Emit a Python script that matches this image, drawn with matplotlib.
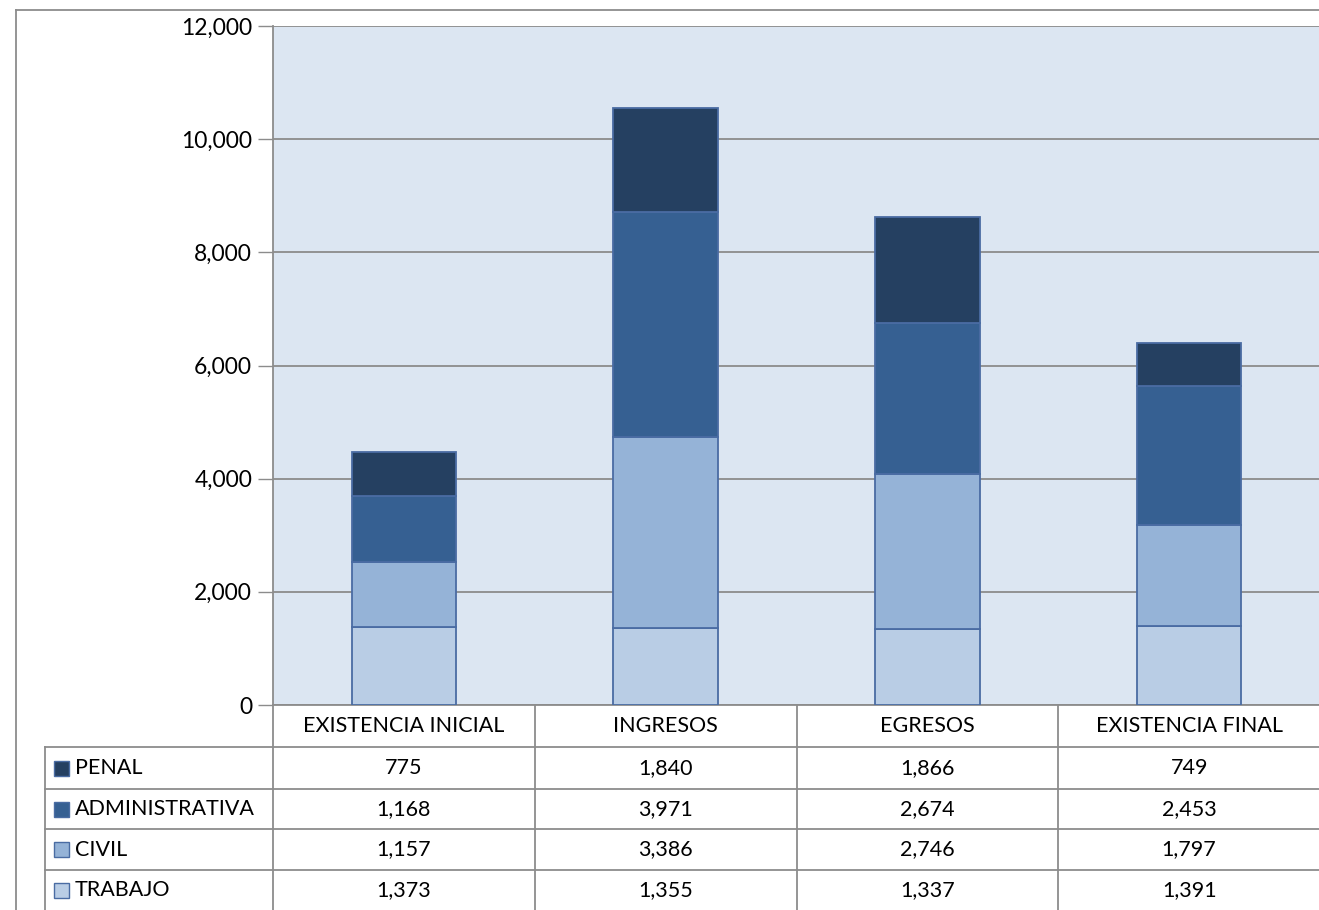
import numpy as np
import matplotlib.pyplot as plt
import matplotlib.transforms as mtransforms
from matplotlib.lines import Line2D
from matplotlib.patches import Rectangle

plt.rcParams['font.family'] = ['Lato', 'DejaVu Sans']

categorias = ['EXISTENCIA INICIAL', 'INGRESOS', 'EGRESOS', 'EXISTENCIA FINAL']
series = ['TRABAJO', 'CIVIL', 'ADMINISTRATIVA', 'PENAL']
trabajo = [1373, 1355, 1337, 1391]
civil = [1157, 3386, 2746, 1797]
administrativa = [1168, 3971, 2674, 2453]
penal = [775, 1840, 1866, 749]
colores = ['#b9cde5', '#95b3d7', '#366092', '#254061']

valores = [trabajo, civil, administrativa, penal]

W, H = 1319, 910
fig = plt.figure(figsize=(W / 100, H / 100), dpi=100)
ax = fig.add_axes([273 / W, (H - 705) / H, (1320 - 273) / W, (705 - 26) / H])
ax.set_facecolor('#dce6f2')

x = np.arange(len(categorias))
base = np.zeros(len(categorias))
for nombre, vals, col in zip(series, valores, colores):
    ax.bar(x, vals, 0.4, bottom=base, color=col, edgecolor='#4a6ca3',
           linewidth=1.3, zorder=3, label=nombre)
    base += np.array(vals)

ax.set_xlim(-0.5, len(categorias) - 0.5)
ax.set_ylim(0, 12000)
ax.set_yticks(np.arange(0, 12001, 2000))
ax.set_yticklabels([f'{v:,}' for v in range(0, 12001, 2000)], fontsize=16.5)
ax.yaxis.grid(True, color='#8c8c8c', linewidth=1.3, zorder=1)
ax.tick_params(axis='y', length=11, width=1, color='#8c8c8c', pad=4)
ax.set_xticks([])
for s in ['right', 'top']:
    ax.spines[s].set_visible(False)
ax.spines['left'].set_color('#8c8c8c')
ax.spines['bottom'].set_color('#8c8c8c')
ax.spines['left'].set_linewidth(1.3)
ax.spines['bottom'].set_linewidth(1.3)

# tabla de datos debajo del grafico
tr = mtransforms.blended_transform_factory(ax.transData, fig.transFigure)
filas = [705, 747, 789, 829, 870, 910]
fy = [1 - v / H for v in filas]
gris = '#8c8c8c'
lx = 45 / W
for y in fy[1:5]:
    fig.add_artist(Line2D([lx, 1], [y, y], transform=fig.transFigure, color=gris, lw=1.3))
fig.add_artist(Line2D([lx, lx], [fy[1], 0], transform=fig.transFigure, color=gris, lw=1.3))
for i in range(len(categorias)):
    fig.add_artist(Line2D([i - 0.5, i - 0.5], [fy[0], 0], transform=tr, color=gris, lw=1.3))

for i, c in enumerate(categorias):
    fig.text(i, (fy[0] + fy[1]) / 2, c, transform=tr, ha='center', va='center', fontsize=15.5)

orden = list(zip(series, valores, colores))[::-1]
for r, (nombre, vals, col) in enumerate(orden):
    yc = (fy[r + 1] + fy[r + 2]) / 2
    fig.add_artist(Rectangle((54 / W, yc - 7.5 / H), 15 / W, 15 / H, transform=fig.transFigure,
                             facecolor=col, edgecolor='#4a6ca3', lw=1))
    fig.text(75 / W, yc, nombre, ha='left', va='center', fontsize=15.5)
    for i, v in enumerate(vals):
        fig.text(i, yc, f'{v:,}', transform=tr, ha='center', va='center', fontsize=15.5)

# borde exterior
fig.add_artist(Line2D([16 / W, 16 / W], [1 - 10 / H, 0], transform=fig.transFigure, color=gris, lw=1.3))
fig.add_artist(Line2D([16 / W, 1], [1 - 10 / H, 1 - 10 / H], transform=fig.transFigure, color=gris, lw=1.3))

fig.savefig('out.png', dpi=100)
